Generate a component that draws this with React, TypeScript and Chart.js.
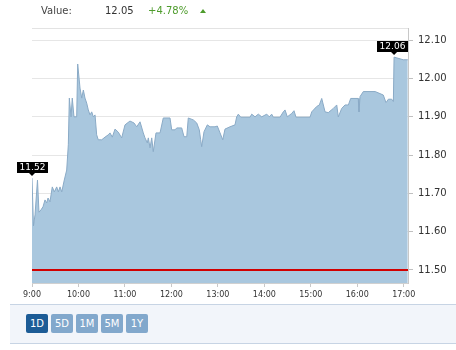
import React, { useEffect, useRef } from "react";
import { Chart, registerables } from "chart.js";

Chart.register(...registerables);

// minutes after 9:00
const timeMinutes = [
  0, 1.9, 3.9, 7.1, 9.0, 11.6, 14.2, 16.8, 19.0, 20.7, 23.2, 26.2, 28.8, 31.9, 34.0, 36.2, 38.4, 41.7, 44.8, 46.9,
  48.2, 50.4, 52.0, 54.2, 57.7, 59.0, 62.0, 64.2, 66.3, 68.4, 70.6, 72.7, 74.9, 77.1, 79.2, 81.4, 83.5, 85.6, 90.0,
  94.3, 98.5, 100.7, 103.7, 107.2, 111.4, 115.8, 120.1, 126.5, 131.7, 135.2, 139.5, 143.7, 145.9, 148.9, 150.2,
  152.4, 154.6, 156.6, 160.1, 165.3, 169.5, 178.2, 180.4, 184.7, 186.9, 193.3, 196.3, 199.8, 201.8, 208.3, 212.7,
  216.0, 217.8, 219.1, 222.1, 226.4, 229.9, 236.3, 239.3, 242.8, 246.3, 249.2, 255.7, 262.1, 264.3, 266.4, 269.5,
  281.5, 283.7, 288.0, 292.2, 296.6, 303.1, 306.4, 309.5, 311.6, 320.2, 324.5, 326.7, 329.7, 335.4, 338.3, 340.9,
  359.0, 361.2, 367.6, 371.0, 374.1, 378.4, 382.6, 389.1, 393.5, 395.5, 399.9, 404.2, 408.5, 411.5, 421.3, 422.2,
  423.6, 427.8, 443.1, 453.6, 457.1, 460.1, 464.5, 466.6, 467.5, 470.9, 479.5, 485.2,
];

const prices = [
  11.74, 11.615, 11.644, 11.735, 11.651, 11.657, 11.665, 11.683, 11.675, 11.688, 11.678, 11.717, 11.704, 11.717,
  11.704, 11.717, 11.704, 11.735, 11.761, 11.827, 11.949, 11.9, 11.949, 11.9, 11.9, 12.038, 11.975, 11.949, 11.97,
  11.949, 11.936, 11.918, 11.905, 11.913, 11.9, 11.905, 11.853, 11.84, 11.84, 11.847, 11.853, 11.858, 11.847, 11.868,
  11.86, 11.845, 11.879, 11.889, 11.884, 11.874, 11.887, 11.858, 11.845, 11.832, 11.845, 11.819, 11.845, 11.809,
  11.858, 11.858, 11.897, 11.897, 11.866, 11.866, 11.871, 11.871, 11.848, 11.848, 11.897, 11.892, 11.884, 11.866,
  11.84, 11.822, 11.861, 11.879, 11.874, 11.874, 11.876, 11.858, 11.84, 11.868, 11.874, 11.879, 11.9, 11.907,
  11.899, 11.899, 11.907, 11.9, 11.907, 11.9, 11.907, 11.9, 11.907, 11.899, 11.899, 11.913, 11.918, 11.9, 11.909,
  11.916, 11.899, 11.899, 11.913, 11.927, 11.931, 11.948, 11.913, 11.911, 11.922, 11.931, 11.9, 11.922, 11.931,
  11.931, 11.948, 11.948, 11.913, 11.953, 11.966, 11.966, 11.957, 11.937, 11.946, 11.946, 11.94, 12.056, 12.054,
  12.049, 12.049,
];

const previousClose = 11.5;
const xMin = 0;
const xMax = 485.5;
const yMin = 11.466;
const yMax = 12.132;
const xTickMinutes = [0, 60, 120, 180, 240, 300, 360, 420, 480];
const xTickLabels = ["9:00", "10:00", "11:00", "12:00", "13:00", "14:00", "15:00", "16:00", "17:00"];
const yTickValues = [11.5, 11.6, 11.7, 11.8, 11.9, 12.0, 12.1];
const calloutLabels = ["11.52", "12.06"];
const headerLabel = "Value:";
const headerValue = "12.05";
const headerChange = "+4.78%";
const rangeButtons = ["1D", "5D", "1M", "5M", "1Y"];

const FONT = "'DejaVu Sans', Verdana, sans-serif";

const overlayPlugin = {
  id: "overlay",
  afterDatasetsDraw(chart: any) {
    const ctx = chart.ctx;
    const { left, right, top } = chart.chartArea;
    ctx.save();
    ctx.strokeStyle = "#e3e3e3";
    ctx.lineWidth = 1;
    ctx.beginPath();
    ctx.moveTo(left, Math.round(top) + 0.5);
    ctx.lineTo(right, Math.round(top) + 0.5);
    ctx.stroke();

    const meta = chart.getDatasetMeta(1);
    let maxIdx = 0;
    prices.forEach((p, i) => {
      if (p > prices[maxIdx]) maxIdx = i;
    });
    const idxs = [0, maxIdx];
    ctx.font = "9px " + FONT;
    idxs.forEach((idx, k) => {
      const pt = meta.data[idx];
      if (!pt) return;
      const text = calloutLabels[k];
      const w = Math.round(ctx.measureText(text).width + 5);
      const h = 11;
      let cx = pt.x;
      if (cx + w / 2 > right) cx = right - w / 2;
      const bottom = Math.round(pt.y - 5);
      const bx = Math.round(cx - w / 2);
      ctx.fillStyle = "#000";
      ctx.fillRect(bx, bottom - h, w, h);
      ctx.beginPath();
      ctx.moveTo(pt.x - 3, bottom);
      ctx.lineTo(pt.x + 3, bottom);
      ctx.lineTo(pt.x, bottom + 3);
      ctx.closePath();
      ctx.fill();
      ctx.fillStyle = "#fff";
      ctx.textAlign = "center";
      ctx.textBaseline = "middle";
      ctx.fillText(text, bx + w / 2, bottom - h / 2 + 0.5);
    });
    ctx.restore();
  },
};

export default function App() {
  const ref = useRef<HTMLCanvasElement | null>(null);

  useEffect(() => {
    if (!ref.current) return;
    const chart = new Chart(ref.current, {
      type: "line",
      data: {
        datasets: [
          {
            data: [
              { x: xMin, y: previousClose },
              { x: xMax, y: previousClose },
            ],
            borderColor: "#d20000",
            borderWidth: 2,
            pointRadius: 0,
            fill: false,
          },
          {
            data: timeMinutes.map((m, i) => ({ x: m, y: prices[i] })),
            borderColor: "#8aaac6",
            borderWidth: 1,
            backgroundColor: "#a9c7de",
            fill: "start",
            pointRadius: 0,
            tension: 0,
          },
        ],
      },
      options: {
        animation: false,
        responsive: false,
        devicePixelRatio: 1,
        layout: { padding: { left: 32, top: 28, right: 0, bottom: 0 } },
        plugins: { legend: { display: false }, tooltip: { enabled: false } },
        scales: {
          x: {
            type: "linear",
            min: xMin,
            max: xMax,
            afterBuildTicks: (s: any) => {
              s.ticks = xTickMinutes.map((v) => ({ value: v }));
            },
            afterFit: (s: any) => {
              s.height = 17;
            },
            ticks: {
              autoSkip: false,
              maxRotation: 0,
              padding: 3,
              color: "#333",
              font: { family: FONT, size: 8 },
              callback: (_v: any, i: number) => xTickLabels[i],
            },
            grid: { drawOnChartArea: false, drawTicks: true, tickLength: 4, color: "#c8c8c8" },
            border: { display: true, color: "#d0d0d0" },
          },
          y: {
            position: "right",
            min: yMin,
            max: yMax,
            afterBuildTicks: (s: any) => {
              s.ticks = yTickValues.map((v) => ({ value: v }));
            },
            afterFit: (s: any) => {
              s.width = 48;
            },
            ticks: {
              padding: 5,
              color: "#333",
              font: { family: FONT, size: 10 },
              callback: (v: any) => Number(v).toFixed(2),
            },
            grid: { color: "#e6e6e6", tickLength: 5, tickColor: "#c0c0c0" },
            border: { display: true, color: "#c8c8c8" },
          },
        },
      },
      plugins: [overlayPlugin],
    } as any);
    return () => chart.destroy();
  }, []);

  const txt: React.CSSProperties = {
    position: "absolute",
    top: 5,
    fontFamily: FONT,
    fontSize: 10,
    lineHeight: "12px",
    whiteSpace: "nowrap",
  };

  return (
    <div style={{ position: "absolute", left: 0, top: 0, width: 456, height: 350, background: "#fff", overflow: "hidden" }}>
      <canvas ref={ref} width={456} height={300} style={{ position: "absolute", left: 0, top: 0, width: 456, height: 300 }} />
      <span style={{ ...txt, left: 41, color: "#444" }}>{headerLabel}</span>
      <span style={{ ...txt, left: 105, color: "#333" }}>{headerValue}</span>
      <span style={{ ...txt, left: 148, color: "#4e9c2c" }}>{headerChange}</span>
      <div
        style={{
          position: "absolute",
          left: 200,
          top: 9,
          width: 0,
          height: 0,
          borderLeft: "3.5px solid transparent",
          borderRight: "3.5px solid transparent",
          borderBottom: "4px solid #4e9c2c",
        }}
      />
      <div
        style={{
          position: "absolute",
          left: 10,
          top: 304,
          width: 446,
          height: 38,
          background: "#f2f5fa",
          borderTop: "1px solid #c7d4e4",
          borderBottom: "1px solid #c7d4e4",
        }}
      />
      {rangeButtons.map((b, i) => (
        <div
          key={b}
          style={{
            position: "absolute",
            left: 26 + i * 25,
            top: 314,
            width: 22,
            height: 19,
            borderRadius: 2,
            background: i === 0 ? "#1d5c96" : "#82a8cc",
            color: "#fff",
            fontFamily: FONT,
            fontSize: 10,
            lineHeight: "19px",
            textAlign: "center",
          }}
        >
          {b}
        </div>
      ))}
    </div>
  );
}
